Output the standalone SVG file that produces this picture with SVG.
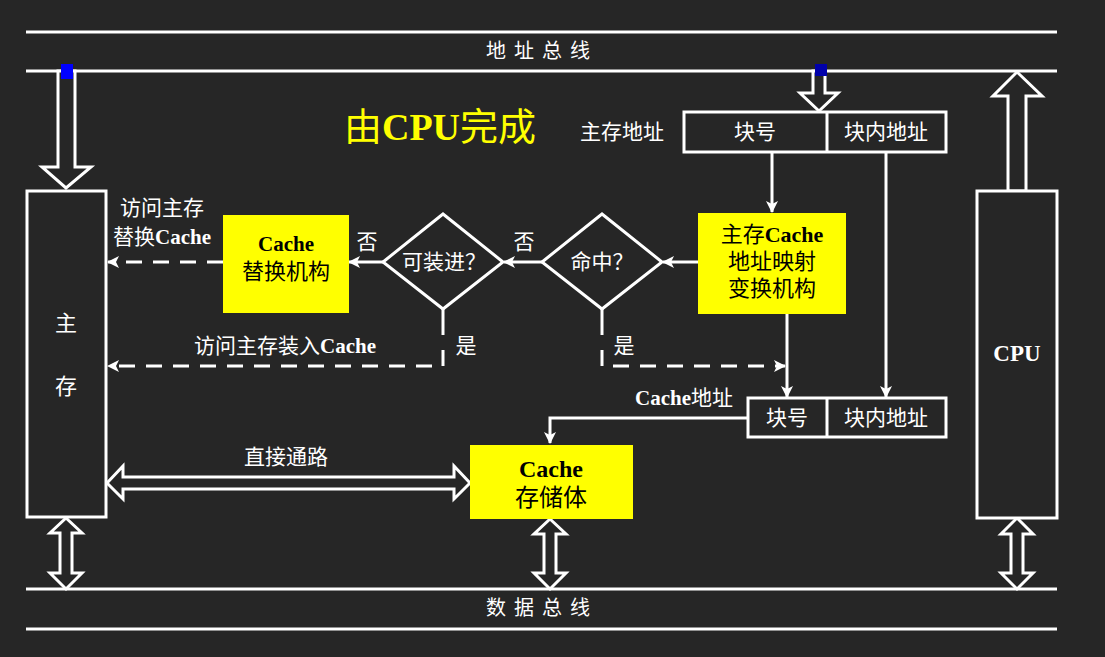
<svg xmlns="http://www.w3.org/2000/svg" width="1105" height="657" viewBox="0 0 1105 657">
<defs>
<marker id="ah" viewBox="0 0 12 12" refX="11" refY="6" markerWidth="12" markerHeight="12" markerUnits="userSpaceOnUse" orient="auto">
<path d="M0,0 L12,6 L0,12 L3,6 Z" fill="#fff"/>
</marker>
<style>
.ln{stroke:#fff;stroke-width:3;fill:none}
.ds{stroke:#fff;stroke-width:3;fill:none;stroke-dasharray:16 11}
.hol{fill:#262626;stroke:#fff;stroke-width:3;stroke-linejoin:miter}
.box{fill:#262626;stroke:#fff;stroke-width:3}
.yb{fill:#ffff00;stroke:none}
.t{font-family:"Liberation Serif","Noto Sans CJK SC",serif;fill:#fff;font-size:21px;text-anchor:middle;dominant-baseline:central}
.k{font-family:"Liberation Serif","Noto Sans CJK SC",serif;fill:#000;font-size:22px;text-anchor:middle;dominant-baseline:central}
.b{font-weight:bold}
.dm{fill:#262626;stroke:#fff;stroke-width:3}
</style>
</defs>
<rect width="1105" height="657" fill="#262626"/>

<g id="address-bus">
<line x1="26" y1="32" x2="1057" y2="32" class="ln"/>
<line x1="26" y1="71" x2="1057" y2="71" class="ln"/>
<text x="542" y="51" class="t" style="letter-spacing:8px;font-size:20px">地址总线</text>
</g>
<g id="data-bus">
<line x1="26" y1="589" x2="1057" y2="589" class="ln"/>
<line x1="26" y1="629" x2="1057" y2="629" class="ln"/>
<text x="542" y="608" class="t" style="letter-spacing:8px;font-size:20px">数据总线</text>
</g>

<g id="title">
<text x="440" y="127" class="t" style="fill:#ffff00;font-size:38px"><tspan>由</tspan><tspan class="b">CPU</tspan><tspan>完成</tspan></text>
</g>

<g id="connectors">
<polygon class="hol" points="58,71 58,167 42,167 66,188 91,167 75,167 75,71"/>
<polygon class="hol" points="813,71 813,93 800,93 819,111 838,93 825,93 825,71"/>
<polygon class="hol" points="1008,191 1008,96 993,96 1017,72 1042,96 1026,96 1026,191"/>
<polygon class="hol" points="66,518 82,533 72,533 72,573 82,573 66,589 50,573 60,573 60,533 50,533"/>
<polygon class="hol" points="550,519 566,534 556,534 556,573 566,573 550,589 534,573 544,573 544,534 534,534"/>
<polygon class="hol" points="1017,518 1033,534 1023,534 1023,573 1033,573 1017,589 1001,573 1011,573 1011,534 1001,534"/>
<polygon class="hol" points="107,483 123,466 123,477 454,477 454,466 470,483 454,499 454,489 123,489 123,499"/>
<rect x="61" y="64" width="12" height="15" fill="#0000ff"/>
<rect x="815" y="64" width="12" height="12" fill="#0000aa"/>

<line x1="772" y1="152" x2="772" y2="212" class="ln" marker-end="url(#ah)"/>
<line x1="886" y1="152" x2="886" y2="397" class="ln" marker-end="url(#ah)"/>
<line x1="787" y1="314" x2="787" y2="397" class="ln" marker-end="url(#ah)"/>
<line x1="698" y1="262" x2="663" y2="262" class="ln" marker-end="url(#ah)"/>
<line x1="542" y1="262" x2="504" y2="262" class="ln" marker-end="url(#ah)"/>
<line x1="383" y1="262" x2="349" y2="262" class="ln" marker-end="url(#ah)"/>
<line x1="223" y1="262" x2="108" y2="262" class="ds" marker-end="url(#ah)"/>
<line x1="602" y1="309" x2="602" y2="335" class="ln"/>
<polyline points="602,350 602,366 785,366" class="ds" marker-end="url(#ah)"/>
<line x1="443" y1="309" x2="443" y2="335" class="ln"/>
<polyline points="443,350 443,366 108,366" class="ds" marker-end="url(#ah)"/>
<polyline points="748,418 550,418 550,443" class="ln" marker-end="url(#ah)"/>

<text x="162" y="208" class="t">访问主存</text>
<text x="162" y="237" class="t">替换<tspan class="b">Cache</tspan></text>
<text x="367" y="242" class="t">否</text>
<text x="524" y="242" class="t">否</text>
<text x="466" y="346" class="t">是</text>
<text x="624" y="346" class="t">是</text>
<text x="285" y="346" class="t">访问主存装入<tspan class="b">Cache</tspan></text>
<text x="684" y="398" class="t"><tspan class="b">Cache</tspan>地址</text>
<text x="286" y="457" class="t">直接通路</text>
</g>

<g id="main-memory">
<rect x="27" y="191" width="79" height="326" class="box"/>
<text x="66" y="323" class="t" style="font-size:22px">主</text>
<text x="66" y="386" class="t" style="font-size:22px">存</text>
</g>

<g id="cpu">
<rect x="977" y="191" width="80" height="327" class="box"/>
<text x="1017" y="353" class="t b" style="font-size:23px">CPU</text>
</g>

<g id="main-address">
<rect x="684" y="112" width="262" height="40" class="box"/>
<line x1="827" y1="112" x2="827" y2="152" class="ln"/>
<text x="755" y="132" class="t">块号</text>
<text x="886" y="132" class="t">块内地址</text>
<text x="622" y="132" class="t">主存地址</text>
</g>

<g id="cache-address">
<rect x="748" y="398" width="198" height="39" class="box"/>
<line x1="827" y1="398" x2="827" y2="437" class="ln"/>
<text x="787" y="418" class="t">块号</text>
<text x="886" y="418" class="t">块内地址</text>
</g>

<g id="mapping">
<rect x="698" y="213" width="148" height="101" class="yb"/>
<text x="772" y="234" class="k"><tspan>主存</tspan><tspan class="b">Cache</tspan></text>
<text x="772" y="261" class="k">地址映射</text>
<text x="772" y="288" class="k">变换机构</text>
</g>

<g id="hit">
<polygon class="dm" points="602,214 662,262 602,309 542,262"/>
<text x="602" y="262" class="t">命中？</text>
</g>

<g id="loadable">
<polygon class="dm" points="443,214 503,262 443,309 383,262"/>
<text x="444" y="262" class="t">可装进？</text>
</g>

<g id="replace">
<rect x="223" y="215" width="126" height="98" class="yb"/>
<text x="286" y="244" class="k b" style="font-size:21px">Cache</text>
<text x="286" y="271" class="k">替换机构</text>
</g>

<g id="cache-store">
<rect x="470" y="445" width="163" height="74" class="yb"/>
<text x="551" y="469" class="k b" style="font-size:24px">Cache</text>
<text x="551" y="498" class="k" style="font-size:24px">存储体</text>
</g>
</svg>
